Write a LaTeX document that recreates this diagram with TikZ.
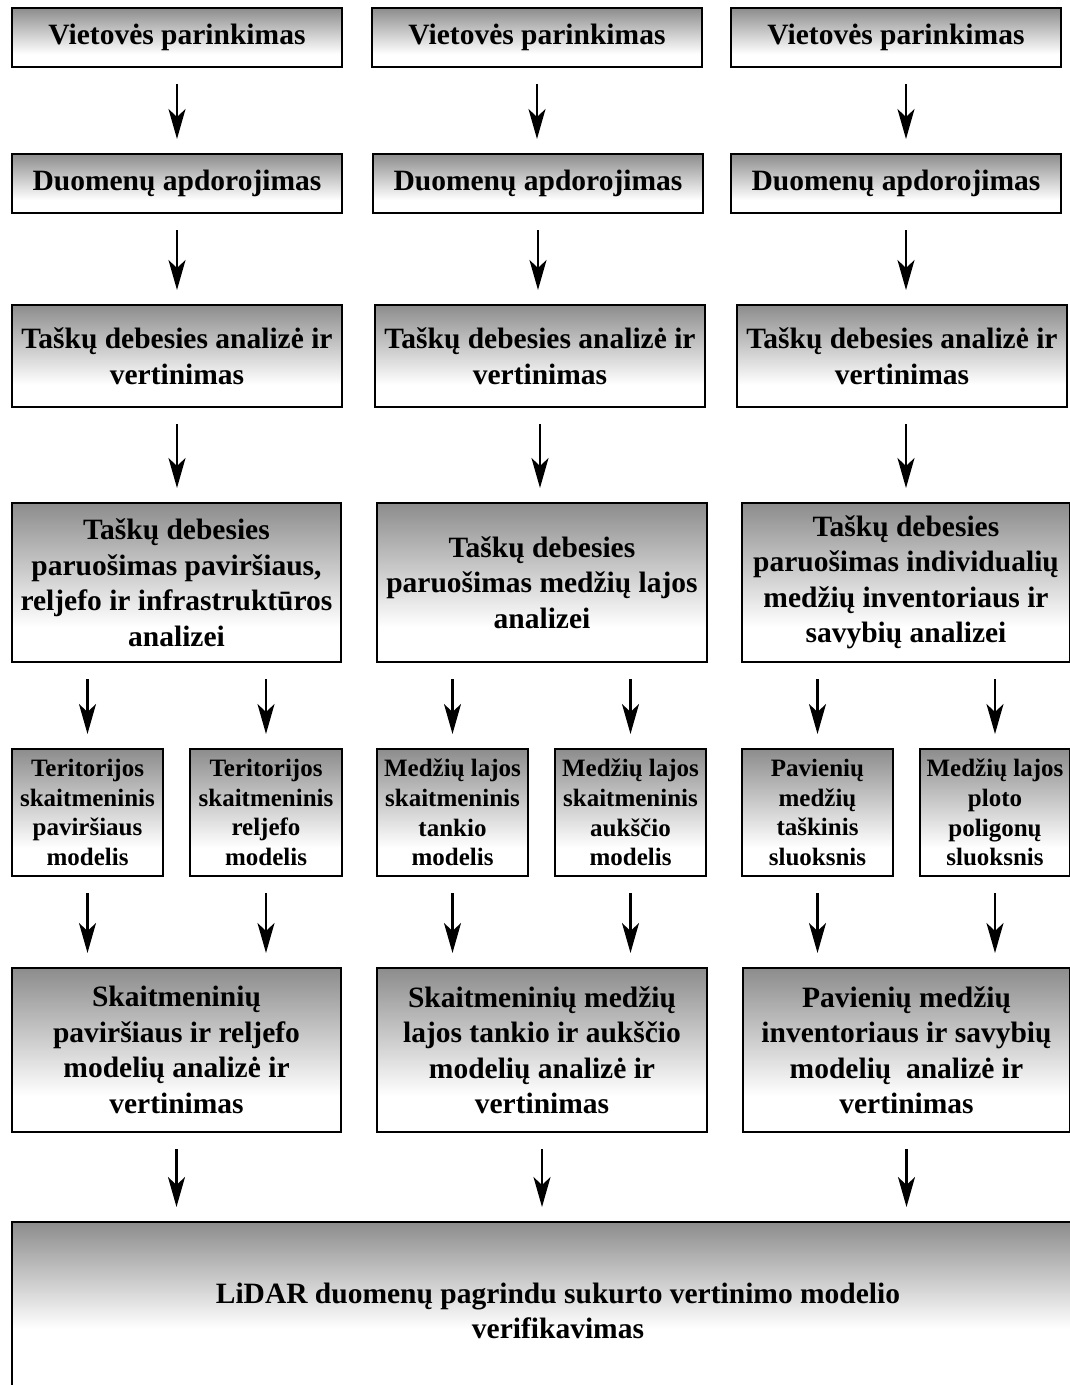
\documentclass[tikz,border=0pt]{standalone}
\usepackage{fontspec}
\setmainfont{Liberation Serif}
\usetikzlibrary{arrows.meta}
\pgfdeclareverticalshading{LDshade}{100bp}{color(0bp)=(white); color(36bp)=(white); color(75bp)=(black!45); color(100bp)=(black!45)}
\pgfdeclareverticalshading{LDshadelong}{100bp}{color(0bp)=(white); color(45bp)=(white); color(75bp)=(black!45); color(100bp)=(black!45)}
\tikzset{/LD/S/box/.style={
	shape=rectangle, draw=black, line width=2pt, shading=LDshade, inner sep=0, align=center,
	font=\fontsize{29.5}{35.5}\selectfont\bfseries
}}
\tikzset{/LD/S/small/.style={
	/LD/S/box, font=\fontsize{25}{29.7}\selectfont\bfseries
}}
\tikzset{/LD/S/arr/.style={
	-{Stealth[length=30pt,width=17pt,inset=8pt]}, line width=2.2pt, shorten <=16pt, shorten >=14pt
}}

\begin{document}
\begin{tikzpicture}[x=1pt, y=-1pt]
				\useasboundingbox (0,0) rectangle (1070,1385);
				\clip (0,0) rectangle (1070,1385);
				% pirma eilute
				\path (177,37.5) node[/LD/S/box, minimum width=330pt, minimum height=59pt] (V1) {Vietovės parinkimas};
				\path (537,37.5) node[/LD/S/box, minimum width=330pt, minimum height=59pt] (V2) {Vietovės parinkimas};
				\path (896,37.5) node[/LD/S/box, minimum width=330pt, minimum height=59pt] (V3) {Vietovės parinkimas};
				% duomenys
				\path (177,183.5) node[/LD/S/box, minimum width=330pt, minimum height=59pt] (D1) {Duomenų apdorojimas};
				\path (538,183.5) node[/LD/S/box, minimum width=330pt, minimum height=59pt] (D2) {Duomenų apdorojimas};
				\path (896,183.5) node[/LD/S/box, minimum width=330pt, minimum height=59pt] (D3) {Duomenų apdorojimas};
				% analize
				\path (177,356) node[/LD/S/box, minimum width=330pt, minimum height=102pt] (A1) {Taškų debesies analizė ir\\vertinimas};
				\path (540,356) node[/LD/S/box, minimum width=330pt, minimum height=102pt] (A2) {Taškų debesies analizė ir\\vertinimas};
				\path (902,356) node[/LD/S/box, minimum width=330pt, minimum height=102pt] (A3) {Taškų debesies analizė ir\\vertinimas};
				% paruosimas
				\path (176.5,582.5) node[/LD/S/box, minimum width=329pt, minimum height=159pt] (P1) {Taškų debesies\\paruošimas paviršiaus,\\reljefo ir infrastruktūros\\analizei};
				\path (542,582.5) node[/LD/S/box, minimum width=330pt, minimum height=159pt] (P2) {Taškų debesies\\paruošimas medžių lajos\\analizei};
				\path (906,582.5) node[/LD/S/box, minimum width=328pt, minimum height=159pt] (P3) {Taškų debesies\\paruošimas individualių\\medžių inventoriaus ir\\savybių analizei};
				% modeliai
				\path (87.5,812.5) node[/LD/S/small, minimum width=151pt, minimum height=127pt] (M1) {Teritorijos\\skaitmeninis\\paviršiaus\\modelis};
				\path (266,812.5) node[/LD/S/small, minimum width=152pt, minimum height=127pt] (M2) {Teritorijos\\skaitmeninis\\reljefo\\modelis};
				\path (452.5,812.5) node[/LD/S/small, minimum width=151pt, minimum height=127pt] (M3) {Medžių lajos\\skaitmeninis\\tankio\\modelis};
				\path (630.5,812.5) node[/LD/S/small, minimum width=151pt, minimum height=127pt] (M4) {Medžių lajos\\skaitmeninis\\aukščio\\modelis};
				\path (817.5,812.5) node[/LD/S/small, minimum width=151pt, minimum height=127pt] (M5) {Pavienių\\medžių\\taškinis\\sluoksnis};
				\path (995,812.5) node[/LD/S/small, minimum width=150pt, minimum height=127pt] (M6) {Medžių lajos\\ploto\\poligonų\\sluoksnis};
				% vertinimas
				\path (176.5,1050) node[/LD/S/box, minimum width=329pt, minimum height=164pt] (S1) {Skaitmeninių\\paviršiaus ir reljefo\\modelių analizė ir\\vertinimas};
				\path (542,1050) node[/LD/S/box, minimum width=330pt, minimum height=164pt] (S2) {Skaitmeninių medžių\\lajos tankio ir aukščio\\modelių analizė ir\\vertinimas};
				\path (906.5,1050) node[/LD/S/box, minimum width=327pt, minimum height=164pt] (S3) {Pavienių medžių\\inventoriaus ir savybių\\modelių\ \ analizė ir\\vertinimas};
				% verifikavimas
				\path (558,1311) node[/LD/S/box, shading=LDshadelong, minimum width=1092pt, minimum height=178pt] (L) {LiDAR duomenų pagrindu sukurto vertinimo modelio\\verifikavimas};
				% rodykles
				\foreach \a/\b in {V1/D1, V2/D2, D1/A1, D2/A2, A1/P1, A2/P2}
					\draw[/LD/S/arr] (\a.south) -- (\a.south |- \b.north);
				\foreach \a/\b in {V3/D3, D3/A3, A3/P3}
					\draw[/LD/S/arr] (P3.north |- \a.south) -- (P3.north |- \b.north);
				\foreach \a/\b in {P1/M1, P1/M2, P2/M3, P2/M4, P3/M5, P3/M6}
					\draw[/LD/S/arr] (\b.north |- \a.south) -- (\b.north);
				\foreach \a/\b in {M1/S1, M2/S1, M3/S2, M4/S2, M5/S3, M6/S3}
					\draw[/LD/S/arr] (\a.south) -- (\a.south |- \b.north);
				\foreach \a in {S1, S2, S3}
					\draw[/LD/S/arr] (\a.south) -- (\a.south |- L.north);
			\end{tikzpicture}
\end{document}
